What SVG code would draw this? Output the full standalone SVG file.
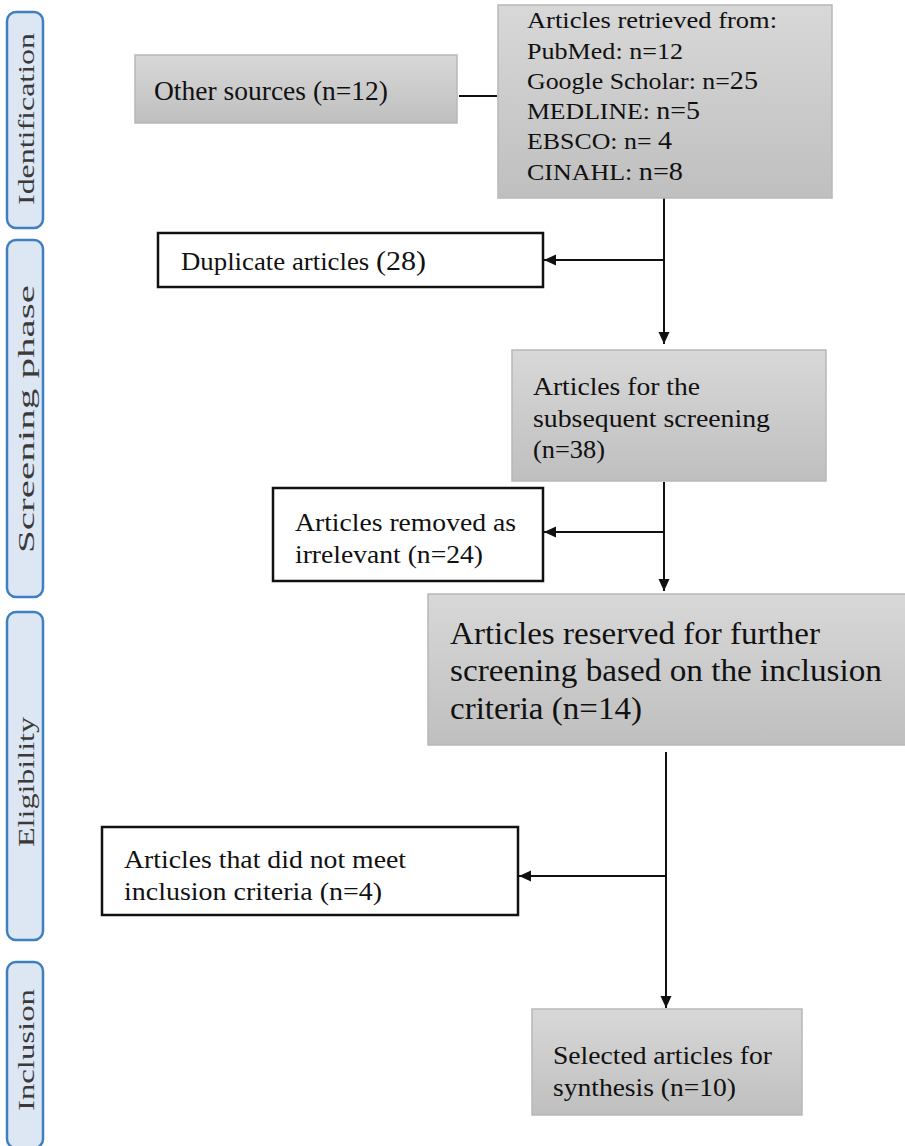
<svg xmlns="http://www.w3.org/2000/svg" width="905" height="1146" viewBox="0 0 905 1146">
<style>
.tab{fill:#dde7f3;stroke:#3f7fc0;stroke-width:2.5}
.tabt{font-family:"Liberation Serif","DejaVu Serif",serif;font-size:24px;fill:#3a3a3a}
.gbox{fill:url(#g);stroke:#b8b8b8;stroke-width:1.5}
.wbox{fill:#fff;stroke:#111;stroke-width:2.5}
.t{font-family:"Liberation Serif","Times New Roman",serif;font-size:25px;fill:#111}
.ts{font-family:"Liberation Serif","Times New Roman",serif;font-size:23px;fill:#111}
.tl{font-family:"Liberation Serif","Times New Roman",serif;font-size:31px;fill:#111}
.big{font-size:25px}
.c{stroke:#111;stroke-width:2;fill:none}
</style>
<defs>
<linearGradient id="g" x1="0" y1="0" x2="0" y2="1">
<stop offset="0" stop-color="#d8d8d8"/>
<stop offset="1" stop-color="#bfbfbf"/>
</linearGradient>
<marker id="ah" markerWidth="14" markerHeight="14" refX="12" refY="6" orient="auto" markerUnits="userSpaceOnUse">
<path d="M0,0.5 L12,6 L0,11.5 Z" fill="#111"/>
</marker>
</defs>
<rect width="905" height="1146" fill="#fff"/>

<g id="tab-identification">
<rect class="tab" x="7" y="12" width="36" height="216" rx="9"/>
<text class="tabt" transform="translate(34,205) rotate(-90)" textLength="172" lengthAdjust="spacingAndGlyphs">Identification</text>
</g>
<g id="tab-screening">
<rect class="tab" x="7" y="240" width="36" height="357" rx="9"/>
<text class="tabt" transform="translate(34,553) rotate(-90)" textLength="268" lengthAdjust="spacingAndGlyphs">Screening phase</text>
</g>
<g id="tab-eligibility">
<rect class="tab" x="7" y="612" width="36" height="328" rx="9"/>
<text class="tabt" transform="translate(34,847) rotate(-90)" textLength="130" lengthAdjust="spacingAndGlyphs">Eligibility</text>
</g>
<g id="tab-inclusion">
<rect class="tab" x="7" y="962" width="36" height="186" rx="9"/>
<text class="tabt" transform="translate(34,1111) rotate(-90)" textLength="122" lengthAdjust="spacingAndGlyphs">Inclusion</text>
</g>

<g id="connectors">
<line class="c" x1="459" y1="96" x2="497" y2="96"/>
<line class="c" x1="664" y1="198" x2="664" y2="344" marker-end="url(#ah)"/>
<line class="c" x1="664" y1="260" x2="544" y2="260" marker-end="url(#ah)"/>
<line class="c" x1="664" y1="482" x2="664" y2="591" marker-end="url(#ah)"/>
<line class="c" x1="664" y1="532" x2="544" y2="532" marker-end="url(#ah)"/>
<line class="c" x1="666" y1="752" x2="666" y2="1008" marker-end="url(#ah)"/>
<line class="c" x1="666" y1="876" x2="519" y2="876" marker-end="url(#ah)"/>
</g>

<g id="other-sources">
<rect class="gbox" x="135" y="55" width="322" height="68"/>
<text class="t" x="154" y="100" style="font-size:27px" textLength="234" lengthAdjust="spacingAndGlyphs">Other sources (n=12)</text>
</g>

<g id="retrieved">
<rect class="gbox" x="498" y="5" width="334" height="193"/>
<text class="ts" x="527" y="28" textLength="250" lengthAdjust="spacingAndGlyphs">Articles retrieved from:</text>
<text class="ts" x="527" y="59" textLength="156" lengthAdjust="spacingAndGlyphs">PubMed: n=12</text>
<text class="ts" x="527" y="89" textLength="231" lengthAdjust="spacingAndGlyphs">Google Scholar: n=<tspan class="big">25</tspan></text>
<text class="ts" x="527" y="119" textLength="173" lengthAdjust="spacingAndGlyphs">MEDLINE: <tspan class="big">n=5</tspan></text>
<text class="ts" x="527" y="149" textLength="145" lengthAdjust="spacingAndGlyphs">EBSCO: n= <tspan class="big">4</tspan></text>
<text class="ts" x="527" y="180" textLength="156" lengthAdjust="spacingAndGlyphs">CINAHL: <tspan class="big">n=8</tspan></text>
</g>

<g id="duplicates">
<rect class="wbox" x="158" y="233" width="385" height="54"/>
<text class="t" x="181" y="270" textLength="245" lengthAdjust="spacingAndGlyphs">Duplicate articles <tspan style="font-size:28px">(28)</tspan></text>
</g>

<g id="subsequent">
<rect class="gbox" x="512" y="350" width="314" height="131"/>
<text class="t" x="533" y="395" textLength="167" lengthAdjust="spacingAndGlyphs">Articles for the</text>
<text class="t" x="533" y="427" textLength="237" lengthAdjust="spacingAndGlyphs">subsequent screening</text>
<text class="t" x="533" y="458" textLength="72" lengthAdjust="spacingAndGlyphs">(n=38)</text>
</g>

<g id="irrelevant">
<rect class="wbox" x="273" y="488" width="270" height="93"/>
<text class="t" x="295" y="531" textLength="221" lengthAdjust="spacingAndGlyphs">Articles removed as</text>
<text class="t" x="295" y="563" textLength="188" lengthAdjust="spacingAndGlyphs">irrelevant (n=24)</text>
</g>

<g id="reserved">
<rect class="gbox" x="428" y="594" width="480" height="151"/>
<text class="tl" x="450" y="644" textLength="370" lengthAdjust="spacingAndGlyphs">Articles reserved for further</text>
<text class="tl" x="450" y="681" textLength="432" lengthAdjust="spacingAndGlyphs">screening based on the inclusion</text>
<text class="tl" x="450" y="719" textLength="192" lengthAdjust="spacingAndGlyphs">criteria (n=14)</text>
</g>

<g id="not-met">
<rect class="wbox" x="102" y="827" width="416" height="88"/>
<text class="t" x="124" y="868" textLength="282" lengthAdjust="spacingAndGlyphs">Articles that did not meet</text>
<text class="t" x="124" y="900" textLength="258" lengthAdjust="spacingAndGlyphs">inclusion criteria (n=4)</text>
</g>

<g id="selected">
<rect class="gbox" x="532" y="1009" width="270" height="106"/>
<text class="t" x="553" y="1064" textLength="219" lengthAdjust="spacingAndGlyphs">Selected articles for</text>
<text class="t" x="553" y="1096" textLength="183" lengthAdjust="spacingAndGlyphs">synthesis (n=10)</text>
</g>
</svg>
